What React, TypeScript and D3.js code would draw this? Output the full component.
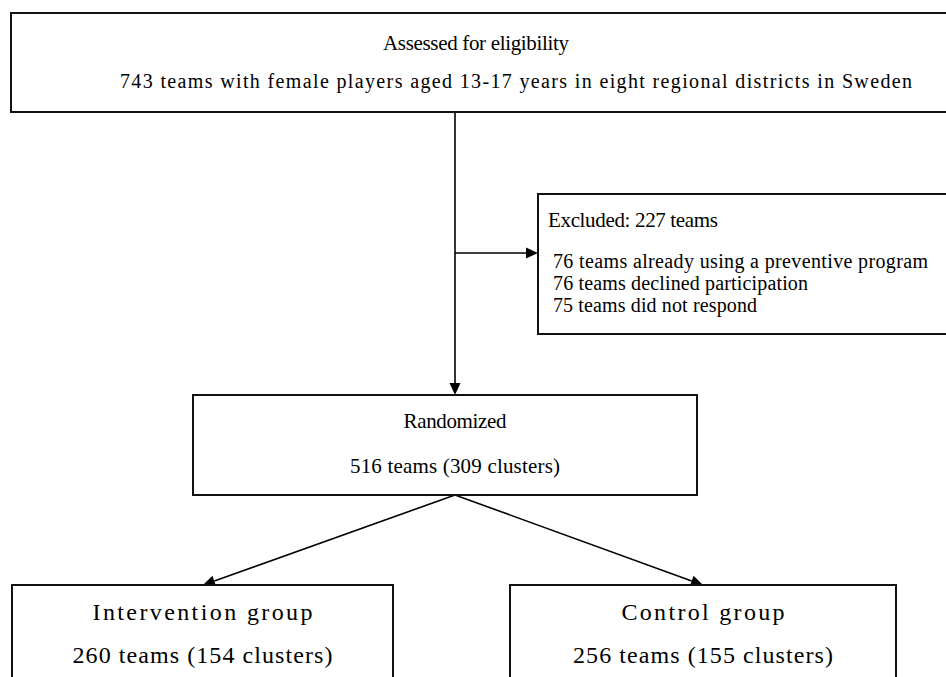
import React from 'react';
import * as d3 from 'd3';

// flowchart text
const assessedTitle = 'Assessed for eligibility';
const assessedDetail =
  '743 teams with female players aged 13-17 years in eight regional districts in Sweden';
const excludedTitle = 'Excluded: 227 teams';
const excludedReasons = [
  '76 teams already using a preventive program',
  '76 teams declined participation',
  '75 teams did not respond',
];
const randomizedLines = ['Randomized', '516 teams (309 clusters)'];
const groupNames = ['Intervention group', 'Control group'];
const groupCounts = ['260 teams (154 clusters)', '256 teams (155 clusters)'];

const W = 946;
const H = 677;
const font = '"Liberation Serif", "Times New Roman", serif';

// layout of boxes (pixel frame of the page)
const layout = {
  top: { x0: 11, y0: 13, x1: 960, y1: 112 },
  excl: { x0: 538, y0: 194, x1: 960, y1: 334 },
  rand: { x0: 193, y0: 395, x1: 697, y1: 495 },
  groups: [
    { x0: 12, y0: 585, x1: 393, y1: 720 },
    { x0: 510, y0: 585, x1: 896, y1: 720 },
  ],
  spineX: 455,
  exclY: 253,
  tipX: [203, 703],
};

// measured text widths, so the serif face fills the same space
const widths = {
  title: 186,
  detail: 792,
  exclTitle: 170,
  reasons: [375, 255, 204],
  rand: [103, 210],
  names: [220, 163],
  counts: [260, 260],
};

function Arrow({ x1, y1, x2, y2 }: { x1: number; y1: number; x2: number; y2: number }) {
  const ang = Math.atan2(y2 - y1, x2 - x1);
  const len = 12;
  const half = 5.5;
  const bx = x2 - len * Math.cos(ang);
  const by = y2 - len * Math.sin(ang);
  const head = d3.path();
  head.moveTo(x2, y2);
  head.lineTo(bx + half * Math.sin(ang), by - half * Math.cos(ang));
  head.lineTo(bx - half * Math.sin(ang), by + half * Math.cos(ang));
  head.closePath();
  return (
    <g>
      <line x1={x1} y1={y1} x2={bx} y2={by} stroke="#000" strokeWidth={1.6} />
      <path d={head.toString()} fill="#000" />
    </g>
  );
}

function Box({ b }: { b: { x0: number; y0: number; x1: number; y1: number } }) {
  return (
    <rect
      x={b.x0}
      y={b.y0}
      width={b.x1 - b.x0}
      height={b.y1 - b.y0}
      fill="#fff"
      stroke="#111"
      strokeWidth={2}
    />
  );
}

function Label(props: {
  x: number;
  y: number;
  size: number;
  w: number;
  anchor?: string;
  children: string;
}) {
  return (
    <text
      x={props.x}
      y={props.y}
      fontSize={props.size}
      textAnchor={props.anchor || 'middle'}
      textLength={props.w}
      lengthAdjust="spacing"
      fill="#000"
    >
      {props.children}
    </text>
  );
}

export default function App() {
  const { top, excl, rand, groups, spineX, exclY, tipX } = layout;
  const cx = (b: { x0: number; x1: number }) => (b.x0 + b.x1) / 2;

  return (
    <svg
      width={W}
      height={H}
      viewBox={`0 0 ${W} ${H}`}
      style={{ position: 'absolute', left: 0, top: 0, background: '#fff' }}
      fontFamily={font}
    >
      <rect width={W} height={H} fill="#fff" />

      {/* spine and arrows */}
      <Arrow x1={spineX} y1={top.y1} x2={spineX} y2={rand.y0} />
      <Arrow x1={spineX} y1={exclY} x2={excl.x0} y2={exclY} />
      {groups.map((g, i) => (
        <Arrow key={i} x1={spineX} y1={rand.y1} x2={tipX[i]} y2={g.y0} />
      ))}

      {/* assessed */}
      <Box b={top} />
      <Label x={476} y={50} size={21} w={widths.title}>
        {assessedTitle}
      </Label>
      <Label x={516} y={88} size={20} w={widths.detail}>
        {assessedDetail}
      </Label>

      {/* excluded */}
      <Box b={excl} />
      <Label x={548} y={227} size={21} w={widths.exclTitle} anchor="start">
        {excludedTitle}
      </Label>
      {excludedReasons.map((r, i) => (
        <Label key={r} x={553} y={268 + i * 22} size={20} w={widths.reasons[i]} anchor="start">
          {r}
        </Label>
      ))}

      {/* randomized */}
      <Box b={rand} />
      {randomizedLines.map((t, i) => (
        <Label key={t} x={spineX} y={428 + i * 45} size={21} w={widths.rand[i]}>
          {t}
        </Label>
      ))}

      {/* groups */}
      {groups.map((g, i) => (
        <g key={i}>
          <Box b={g} />
          <Label x={cx(g)} y={620} size={24} w={widths.names[i]}>
            {groupNames[i]}
          </Label>
          <Label x={cx(g)} y={663} size={24} w={widths.counts[i]}>
            {groupCounts[i]}
          </Label>
        </g>
      ))}
    </svg>
  );
}
